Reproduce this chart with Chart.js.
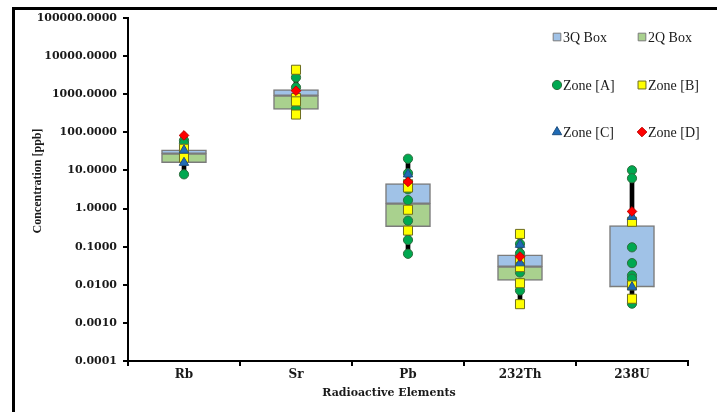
<!DOCTYPE html>
<html>
<head>
<meta charset="utf-8">
<script src="https://cdn.jsdelivr.net/npm/chart.js@4/dist/chart.umd.min.js"></script>
<style>
  html, body { margin: 0; padding: 0; background: #ffffff; }
  #wrap { width: 717px; height: 412px; position: relative; }
</style>
</head>
<body>
<div id="wrap"><canvas id="c" width="717" height="412"></canvas></div>
<script>
// Elements along the x axis
const categories = ['Rb', 'Sr', 'Pb', '232Th', '238U'];

// Box statistics per element (ppb)
const q1Values = [16, 400, 0.335, 0.013, 0.0087];
const medianValues = [27.5, 920, 1.35, 0.030, 0.0088];
const q3Values = [35, 1320, 4.5, 0.061, 0.36];
const minValues = [7.9, 293, 0.065, 0.0031, 0.0032];
const maxValues = [83, 4385, 20.3, 0.216, 10.1];

// Samples per zone, one list per element
const zoneA = [
  [61.4, 51.3, 7.9],
  [2760, 1514, 420],
  [20.3, 8.45, 3.2, 1.66, 0.48, 0.15, 0.065],
  [0.118, 0.067, 0.021, 0.0071],
  [10.1, 6.25, 0.096, 0.037, 0.0176, 0.0145, 0.0032]
];
const zoneB = [
  [37, 21.6],
  [4385, 795, 650, 293],
  [4.36, 3.56, 0.93, 0.264],
  [0.216, 0.043, 0.029, 0.011, 0.0031],
  [0.45, 0.0096, 0.0043]
];
const zoneC = [
  [33.7, 16],
  [],
  [7.95],
  [0.113, 0.037],
  [0.61, 0.0087]
];
const zoneD = [
  [83],
  [1234],
  [5.0],
  [0.055],
  [0.84]
];

// Decade ticks of the log axis
const yTicks = [0.0001, 0.001, 0.01, 0.1, 1, 10, 100, 1000, 10000, 100000];

const toPoints = (lists) => lists.flatMap((vals, i) => vals.map(v => ({ x: categories[i], y: v })));

const blueBox = '#a0c2e7';
const greenBox = '#a9d18e';
const boxEdge = '#7b7b7b';

const zoneStyles = [
  { label: 'Zone [A]', data: zoneA, style: 'circle', radius: 4.6, bg: '#00a850', border: '#2f6f3f', order: 4 },
  { label: 'Zone [B]', data: zoneB, style: 'rect', radius: 6.4, bg: '#ffff00', border: '#6d6d1f', order: 3 },
  { label: 'Zone [C]', data: zoneC, style: 'triangle', radius: 5.4, bg: '#1f6bb5', border: '#1f4f80', order: 2 },
  { label: 'Zone [D]', data: zoneD, style: 'rectRot', radius: 4.8, bg: '#ff0000', border: '#c00000', order: 1 }
];

const datasets = [
  {
    label: 'whisker',
    data: categories.map((c, i) => [minValues[i], maxValues[i]]),
    backgroundColor: '#000000',
    borderWidth: 0,
    barThickness: 4,
    order: 30
  },
  {
    label: '3Q Box',
    data: categories.map((c, i) => [medianValues[i], q3Values[i]]),
    backgroundColor: blueBox,
    borderColor: boxEdge,
    borderWidth: 1.5,
    borderSkipped: false,
    barThickness: 45,
    order: 20
  },
  {
    label: '2Q Box',
    data: categories.map((c, i) => [q1Values[i], medianValues[i]]),
    backgroundColor: greenBox,
    borderColor: boxEdge,
    borderWidth: 1.5,
    borderSkipped: false,
    barThickness: 45,
    order: 21
  }
].concat(zoneStyles.map(z => ({
  type: 'line',
  label: z.label,
  data: toPoints(z.data),
  showLine: false,
  pointStyle: z.style,
  pointRadius: z.radius,
  pointBackgroundColor: z.bg,
  pointBorderColor: z.border,
  pointBorderWidth: 1,
  order: z.order
})));

// Frame, axis titles and the two-column legend
const decorations = {
  id: 'decorations',
  beforeDraw(chart) {
    const ctx = chart.ctx;
    ctx.save();
    ctx.fillStyle = '#ffffff';
    ctx.fillRect(0, 0, chart.width, chart.height);
    ctx.restore();
  },
  afterDraw(chart) {
    const ctx = chart.ctx;
    ctx.save();
    // outer frame
    ctx.strokeStyle = '#000000';
    ctx.lineWidth = 3;
    ctx.beginPath();
    ctx.moveTo(13.5, chart.height);
    ctx.lineTo(13.5, 8.5);
    ctx.lineTo(chart.width, 8.5);
    ctx.stroke();

    // axis titles
    ctx.fillStyle = '#1a1a1a';
    ctx.textAlign = 'center';
    ctx.textBaseline = 'middle';
    ctx.font = 'bold 11px "DejaVu Serif"';
    ctx.fillText('Radioactive Elements', 389, 393);
    ctx.save();
    ctx.translate(38, 181);
    ctx.rotate(-Math.PI / 2);
    ctx.font = 'bold 12px "Liberation Serif"';
    ctx.fillText('Concentration [ppb]', 0, 0);
    ctx.restore();

    // legend
    const entries = [
      { text: '3Q Box', col: 0, row: 0, style: 'rect', radius: 5.4, bg: blueBox, border: boxEdge },
      { text: '2Q Box', col: 1, row: 0, style: 'rect', radius: 5.4, bg: greenBox, border: boxEdge }
    ].concat(zoneStyles.map((z, i) => ({
      text: z.label, col: i % 2, row: 1 + Math.floor(i / 2), style: z.style,
      radius: z.style === 'rect' ? 5.6 : z.radius, bg: z.bg, border: z.border
    })));
    const colX = [557, 642];
    const rowY = [37, 85, 132];
    ctx.font = '14px "Liberation Serif"';
    ctx.textAlign = 'left';
    entries.forEach(e => {
      const x = colX[e.col], y = rowY[e.row];
      ctx.fillStyle = e.bg;
      ctx.strokeStyle = e.border;
      ctx.lineWidth = 1;
      Chart.helpers.drawPoint(ctx, { pointStyle: e.style, radius: e.radius, rotation: 0, borderWidth: 1 }, x, y);
      ctx.fillStyle = '#1a1a1a';
      ctx.fillText(e.text, x + 6, y + 1);
    });
    ctx.restore();
  }
};

new Chart(document.getElementById('c'), {
  type: 'bar',
  data: { labels: categories, datasets: datasets },
  options: {
    responsive: false,
    animation: false,
    layout: { padding: { left: 0, top: 18, right: 29, bottom: 0 } },
    plugins: {
      legend: { display: false },
      tooltip: { enabled: false }
    },
    scales: {
      x: {
        stacked: true,
        grid: { display: true, drawOnChartArea: false, offset: true, tickLength: 5, color: '#000000', lineWidth: 2 },
        border: { display: true, color: '#000000', width: 2 },
        ticks: { color: '#1a1a1a', font: { family: '"DejaVu Serif"', weight: 'bold', size: 12 }, padding: 2 },
        afterFit(scale) { scale.height = 51; }
      },
      y: {
        type: 'logarithmic',
        stacked: false,
        min: 0.0001,
        max: 100000,
        grid: { display: true, drawOnChartArea: false, tickLength: 5, color: '#000000', lineWidth: 2 },
        border: { display: true, color: '#000000', width: 2 },
        ticks: {
          color: '#1a1a1a',
          font: { family: '"DejaVu Serif"', weight: 'bold', size: 11 },
          padding: 6,
          autoSkip: false,
          callback: (v) => Number(v).toFixed(4)
        },
        afterBuildTicks(scale) { scale.ticks = yTicks.map(v => ({ value: v })); },
        afterFit(scale) { scale.width = 128; }
      }
    }
  },
  plugins: [decorations]
});
</script>
</body>
</html>
